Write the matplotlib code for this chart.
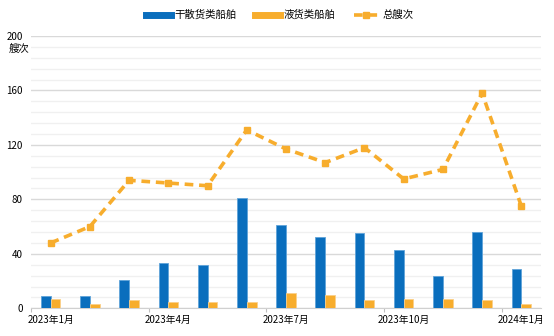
import numpy as np
import matplotlib.pyplot as plt
from matplotlib.lines import Line2D
from matplotlib.ticker import MultipleLocator

plt.rcParams['font.family'] = ['Noto Sans CJK SC', 'DejaVu Sans']

# 数据
months = ['2023年1月', '2023年2月', '2023年3月', '2023年4月', '2023年5月', '2023年6月',
          '2023年7月', '2023年8月', '2023年9月', '2023年10月', '2023年11月', '2023年12月',
          '2024年1月']
dry_bulk = [9, 9, 21, 33, 32, 81, 61, 52, 55, 43, 24, 56, 29]
liquid = [7, 3, 6, 5, 5, 5, 11, 10, 6, 7, 7, 6, 3]
total = [48, 60, 94, 92, 90, 131, 117, 107, 118, 95, 102, 158, 75]
label_months = ['2023年1月', '2023年4月', '2023年7月', '2023年10月', '2024年1月']

blue = '#0A6EBD'
orange = '#F7AD2D'

fig = plt.figure(figsize=(5.54, 3.36), dpi=100)
ax = fig.add_axes([0.056, 0.0824, 0.9205, 0.8106])

x = np.arange(len(months))
w = 0.25
ax.bar(x - w / 2, dry_bulk, w, color=blue, edgecolor='#5fa3d9', linewidth=0.6, zorder=3)
ax.bar(x + w / 2, liquid, w, color=orange, edgecolor='#fbd08a', linewidth=0.6, zorder=3)
ax.plot(x, total, color=orange, lw=2.6, ls=(0, (2.4, 1.6)), marker='s', ms=5,
        zorder=4)

ax.set_xlim(-0.5, len(months) - 0.5)
ax.set_ylim(0, 200)
ax.yaxis.set_major_locator(MultipleLocator(40))
ax.yaxis.set_minor_locator(MultipleLocator(8))
ax.grid(axis='y', which='major', color='#d9d9d9', lw=1.0, zorder=0)
ax.grid(axis='y', which='minor', color='#f0f0f0', lw=1.0, zorder=0)
ax.tick_params(axis='y', which='both', length=0, labelsize=7, pad=6)

# x轴：刻度线在类别边界，标签在类别中心
idx = [months.index(m) for m in label_months]
ax.set_xticks([i - 0.5 for i in idx])
ax.set_xticklabels([])
ax.set_xticks(idx, minor=True)
ax.set_xticklabels(label_months, minor=True)
ax.tick_params(axis='x', which='major', length=3, color='#bfbfbf')
ax.tick_params(axis='x', which='minor', length=0, labelsize=7, pad=5)

for s in ['left', 'right', 'top']:
    ax.spines[s].set_visible(False)
ax.spines['bottom'].set_color('#d0d0d0')

fig.text(0.016, 0.855, '艘次', fontsize=7.5, va='center')

handles = [Line2D([], [], color=blue, lw=5),
           Line2D([], [], color=orange, lw=5),
           Line2D([], [], color=orange, lw=2.6, ls=(0, (2.4, 1.6)), marker='s', ms=5)]
fig.legend(handles, ['干散货类船舶', '液货类船舶', '总艘次'], loc='center',
           bbox_to_anchor=(0.505, 0.955), ncol=3, frameon=False, fontsize=7.5,
           handlelength=2.4, columnspacing=1.7, handletextpad=0.4)

plt.savefig('out.png', dpi=100)
